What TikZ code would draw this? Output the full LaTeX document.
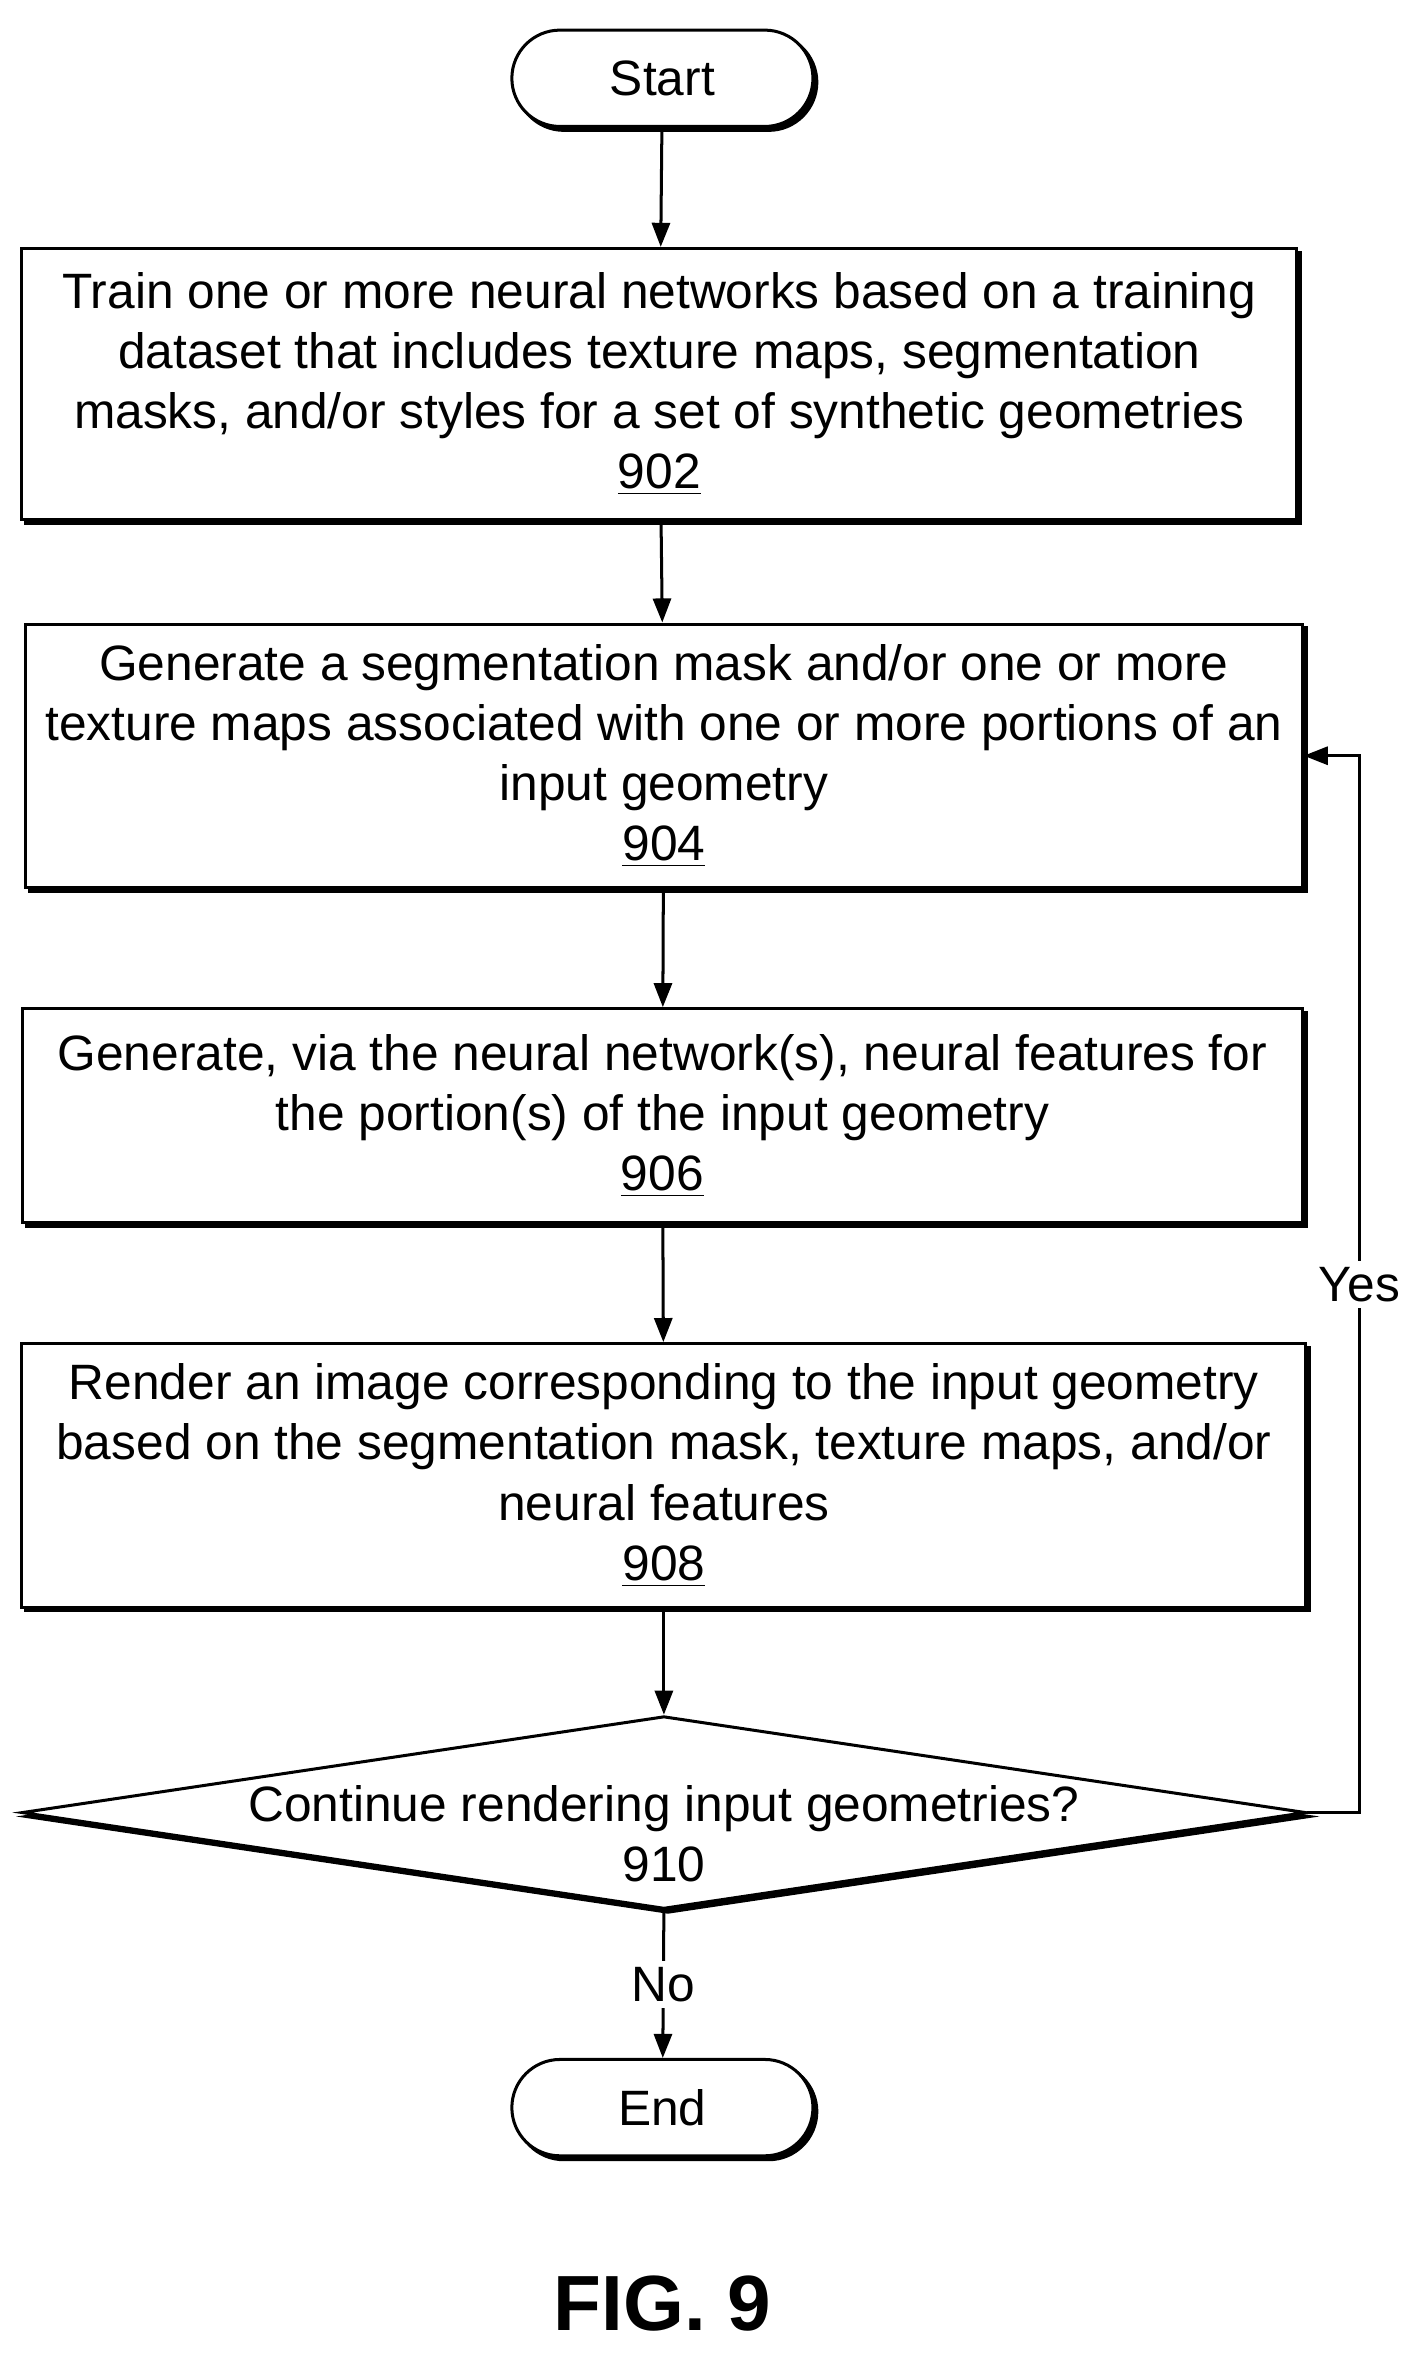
\documentclass[tikz,border=0pt]{standalone}
\usepackage{fontspec}
\setmainfont{Liberation Sans}
\usetikzlibrary{arrows.meta,shapes.geometric,shadows}
\begin{document}
\begin{tikzpicture}[x=0.5pt,y=-0.5pt,
  every node/.style={font=\fontsize{16.5}{20}\selectfont},
  box/.style={draw,line width=1pt,fill=white,align=center,inner sep=0,
    copy shadow={shadow xshift=1.3pt,shadow yshift=-1.3pt,fill=black,draw=black}},
  term/.style={draw,line width=1pt,fill=white,rounded corners=16pt,minimum width=100pt,minimum height=32pt,
    copy shadow={shadow xshift=1.3pt,shadow yshift=-1.3pt,fill=black,draw=black}},
  arr/.style={line width=1pt,-{Triangle[length=8pt,width=6pt]}}]
\useasboundingbox (0,0) rectangle (940,1563);
\node[term] (start) at (440,52) {Start};
\node[box,minimum width=423.5pt,minimum height=90pt] (b902) at (438,255)
  {Train one or more neural networks based on a training\\dataset that includes texture maps, segmentation\\masks, and/or styles for a set of synthetic geometries\\\underline{902}};
\node[box,minimum width=424pt,minimum height=87.5pt] (b904) at (441,502)
  {Generate a segmentation mask and/or one or more\\texture maps associated with one or more portions of an\\input geometry\\\underline{904}};
\node[box,minimum width=425pt,minimum height=71pt] (b906) at (440,741)
  {Generate, via the neural network(s), neural features for\\the portion(s) of the input geometry\\\underline{906}};
\node[box,minimum width=426.5pt,minimum height=87.5pt] (b908) at (441,980)
  {Render an image corresponding to the input geometry\\based on the segmentation mask, texture maps, and/or\\neural features\\\underline{908}};
\node[draw,line width=1pt,fill=white,diamond,inner sep=0,minimum width=426.5pt,minimum height=64pt,shape aspect=6.6,
  copy shadow={shadow xshift=1.3pt,shadow yshift=-1.3pt,fill=black,draw=black}] (d910) at (441,1204) {};
\node[align=center] (t910) at (441,1218) {Continue rendering input geometries?\\910};
\node[term] (end) at (440,1400) {End};
\node[font=\fontsize{26}{30}\selectfont\bfseries] (fig) at (440,1530) {FIG. 9};
\draw[arr] (start) -- (b902);
\draw[arr] (b902) -- (b904);
\draw[arr] (b904) -- (b906);
\draw[arr] (b906) -- (b908);
\draw[arr] (b908.south -| d910.north) -- (d910.north);
\draw[arr] (d910.south) -- node[fill=white,inner sep=2pt] (no) {No} (end);
\coordinate (c1) at (903,1204);
\coordinate (c2) at (903,502);
\draw[arr] (d910.east) -- (c1) -- node[fill=white,inner sep=2pt,pos=0.5] (yes) {Yes} (c2) -- (b904.east);
\end{tikzpicture}
\end{document}
